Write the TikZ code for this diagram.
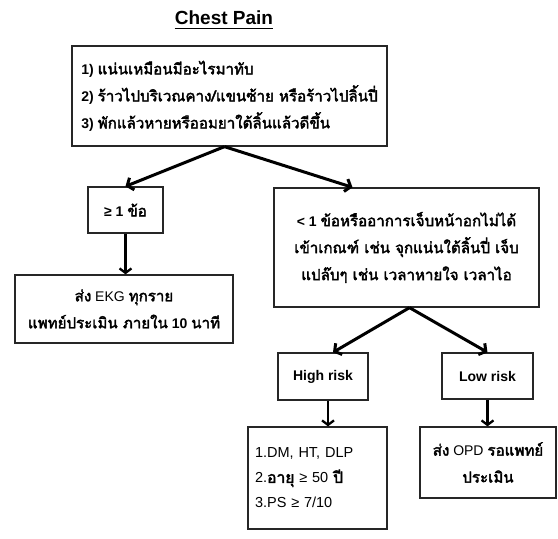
\documentclass[tikz,border=0pt]{standalone}
\usepackage{fontspec}
\setmainfont{Liberation Sans}
\newfontfamily\thaifont[Script=Thai,Scale=1.08,AutoFakeBold=2.5]{Loma}
\usetikzlibrary{arrows.meta}
\newcommand{\tha}[1]{{\thaifont\bfseries #1}}

\begin{document}
\begin{tikzpicture}[x=1pt,y=-1pt]
	\useasboundingbox (0,0) rectangle (558,539);
	\tikzstyle{box}=[draw=black!85,line width=1.3pt,inner sep=0pt,align=center,font=\fontsize{14}{27}\selectfont]
	\tikzstyle{link}=[line width=3pt,-{Straight Barb[length=5pt,width=13pt]}]
	\tikzstyle{drop}=[line width=2.3pt,-{Straight Barb[length=4.5pt,width=12pt]}]
	\node[inner sep=0pt] (title) at (224,18) {\fontsize{19}{22}\selectfont\bfseries Chest Pain};
	\draw[line width=1.3pt] ([yshift=-3pt]title.south west) -- ([yshift=-3pt]title.south east);
	\node[box,align=left,minimum width=315pt,minimum height=100pt] (top) at (229.5,96)
		{\bfseries 1) \tha{แน่นเหมือนมีอะไรมาทับ}\\\bfseries 2) \tha{ร้าวไปบริเวณคาง/แขนซ้าย หรือร้าวไปลิ้นปี่}\\\bfseries 3) \tha{พักแล้วหายหรืออมยาใต้ลิ้นแล้วดีขึ้น}};
	\node[box,minimum width=75pt,minimum height=46pt] (ge1) at (125.5,210) {\bfseries ≥ 1 \tha{ข้อ}};
	\node[box,minimum width=265pt,minimum height=119pt] (lt1) at (406.5,247.5)
		{\bfseries < 1 \tha{ข้อหรืออาการเจ็บหน้าอกไม่ได้}\\\tha{เข้าเกณฑ์ เช่น จุกแน่นใต้ลิ้นปี่ เจ็บ}\\\tha{แปล๊บๆ  เช่น เวลาหายใจ เวลาไอ}};
	\node[box,minimum width=218pt,minimum height=68pt] (ekg) at (124,309)
		{\tha{ส่ง} EKG \tha{ทุกราย}\\\tha{แพทย์ประเมิน ภายใน} \bfseries 10 \tha{นาที}};
	\node[box,minimum width=90pt,minimum height=47pt] (high) at (323,376.5) {\bfseries High risk};
	\node[box,minimum width=91pt,minimum height=46pt] (low) at (487.5,376) {\bfseries Low risk};
	\node[box,align=left,text width=125pt,inner xsep=7pt,minimum height=102pt,font=\fontsize{14.5}{25}\selectfont] (list) at (317.5,478)
		{1.DM, HT, DLP\\2.\tha{อายุ} ≥ 50 \tha{ปี}\\3.PS ≥ 7/10};
	\node[box,minimum width=136pt,minimum height=71pt,font=\fontsize{14}{27}\selectfont] (opd) at (488,462.5)
		{\tha{ส่ง} OPD \tha{รอแพทย์}\\\tha{ประเมิน}};
	\coordinate (s1) at ([xshift=-5pt]top.south);
	\coordinate (s2) at ([xshift=3pt]lt1.south);
	\draw[link] (s1)--(ge1.north);
	\draw[link] (s1)--([xshift=-54pt]lt1.north);
	\draw[link] (s2)--([xshift=10pt]high.north);
	\draw[link] (s2)--(low.north);
	\draw[drop] (ge1.south)--(ge1.south |- ekg.north);
	\draw[drop] ([xshift=5pt]high.south)--([xshift=5pt]high.south |- list.north);
	\draw[drop] (low.south)--(low.south |- opd.north);
\end{tikzpicture}
\end{document}
